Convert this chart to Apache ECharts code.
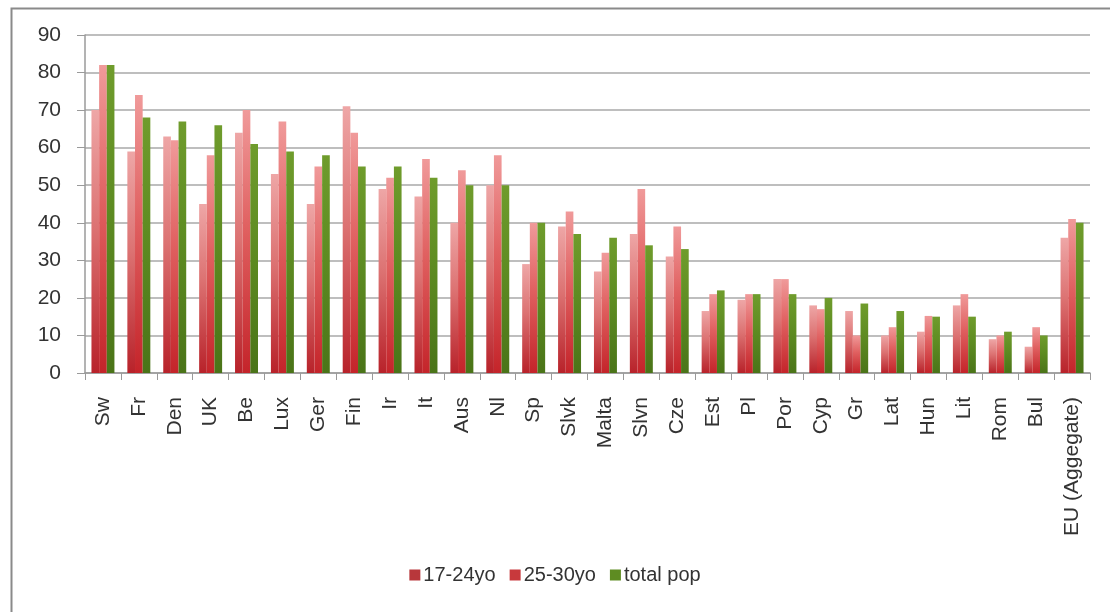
<!DOCTYPE html>
<html>
<head>
<meta charset="utf-8">
<script src="https://cdn.jsdelivr.net/npm/echarts@6/dist/echarts.min.js"></script>
<style>
html,body{margin:0;padding:0;background:#fff;}
#chart{width:1110px;height:612px;}
</style>
</head>
<body>
<div id="chart"></div>
<script>
const categories = ['Sw','Fr','Den','UK','Be','Lux','Ger','Fin','Ir','It','Aus','Nl','Sp','Slvk','Malta','Slvn','Cze','Est','Pl','Por','Cyp','Gr','Lat','Hun','Lit','Rom','Bul','EU (Aggegate)'];
const age17_24 = [70,59,63,45,64,53,45,71,49,47,40,50,29,39,27,37,31,16.5,19.5,25,18,16.5,10,11,18,9,7,36];
const age25_30 = [82,74,62,58,70,67,55,64,52,57,54,58,40,43,32,49,39,21,21,25,17,10,12.2,15.2,21,10,12.2,41];
const totalPop = [82,68,67,66,61,59,58,55,55,52,50,50,40,37,36,34,33,22,21,21,20,18.5,16.5,15,15,11,10,40];
const seriesNames = ['17-24yo','25-30yo','total pop'];
const yTicks = [0,10,20,30,40,50,60,70,80,90];

const FONT = 'Liberation Sans, Arial, sans-serif';
function grad(top, mid, bottom){
  return new echarts.graphic.LinearGradient(0,0,0,1,[
    {offset:0,color:top},{offset:0.45,color:mid},{offset:1,color:bottom}
  ]);
}
const colors = [
  grad('#eea6a6','#dc7272','#b8222a'),
  grad('#f09a9a','#e06060','#c4242a'),
  grad('#6f9c2c','#5e8c22','#4a7418')
];
const legendColors = ['#b8373b','#c8393c','#5e8c22'];

const chart = echarts.init(document.getElementById('chart'));
chart.setOption({
  animation:false,
  backgroundColor:'#fff',
  graphic:[{
    type:'rect', left:9, top:6, z:-10,
    shape:{x:0,y:0,width:1200,height:700},
    style:{fill:'none',stroke:'#8a8a8a',lineWidth:2}
  }],
  grid:{left:85,right:20,top:35,bottom:239,containLabel:false},
  legend:{
    bottom:22, left:'center',
    itemWidth:11, itemHeight:11, itemGap:14,
    icon:'rect',
    textStyle:{fontFamily:FONT,fontSize:20,color:'#333',padding:[0,0,0,-2]},
    data:seriesNames.map((n,i)=>({name:n,itemStyle:{color:legendColors[i]}}))
  },
  xAxis:{
    type:'category',
    data:categories,
    axisLine:{lineStyle:{color:'#9a9a9a',width:1.5}},
    axisTick:{show:true,length:7,lineStyle:{color:'#9a9a9a'}},
    axisLabel:{rotate:90,interval:0,margin:24,fontFamily:FONT,fontSize:21,color:'#333'}
  },
  yAxis:{
    type:'value', min:yTicks[0], max:yTicks[yTicks.length-1], interval:10,
    axisLine:{show:true,lineStyle:{color:'#9a9a9a',width:1.5}},
    axisTick:{show:true,length:8,lineStyle:{color:'#9a9a9a'}},
    splitLine:{lineStyle:{color:'#a8a8a8',width:1.5}},
    axisLabel:{margin:24,fontFamily:FONT,fontSize:21,color:'#333'}
  },
  series:[age17_24,age25_30,totalPop].map((d,i)=>({
    name:seriesNames[i],
    type:'bar',
    data:d,
    barGap:'0%',
    barCategoryGap:'36%',
    itemStyle:{color:colors[i]}
  }))
});
</script>
</body>
</html>
